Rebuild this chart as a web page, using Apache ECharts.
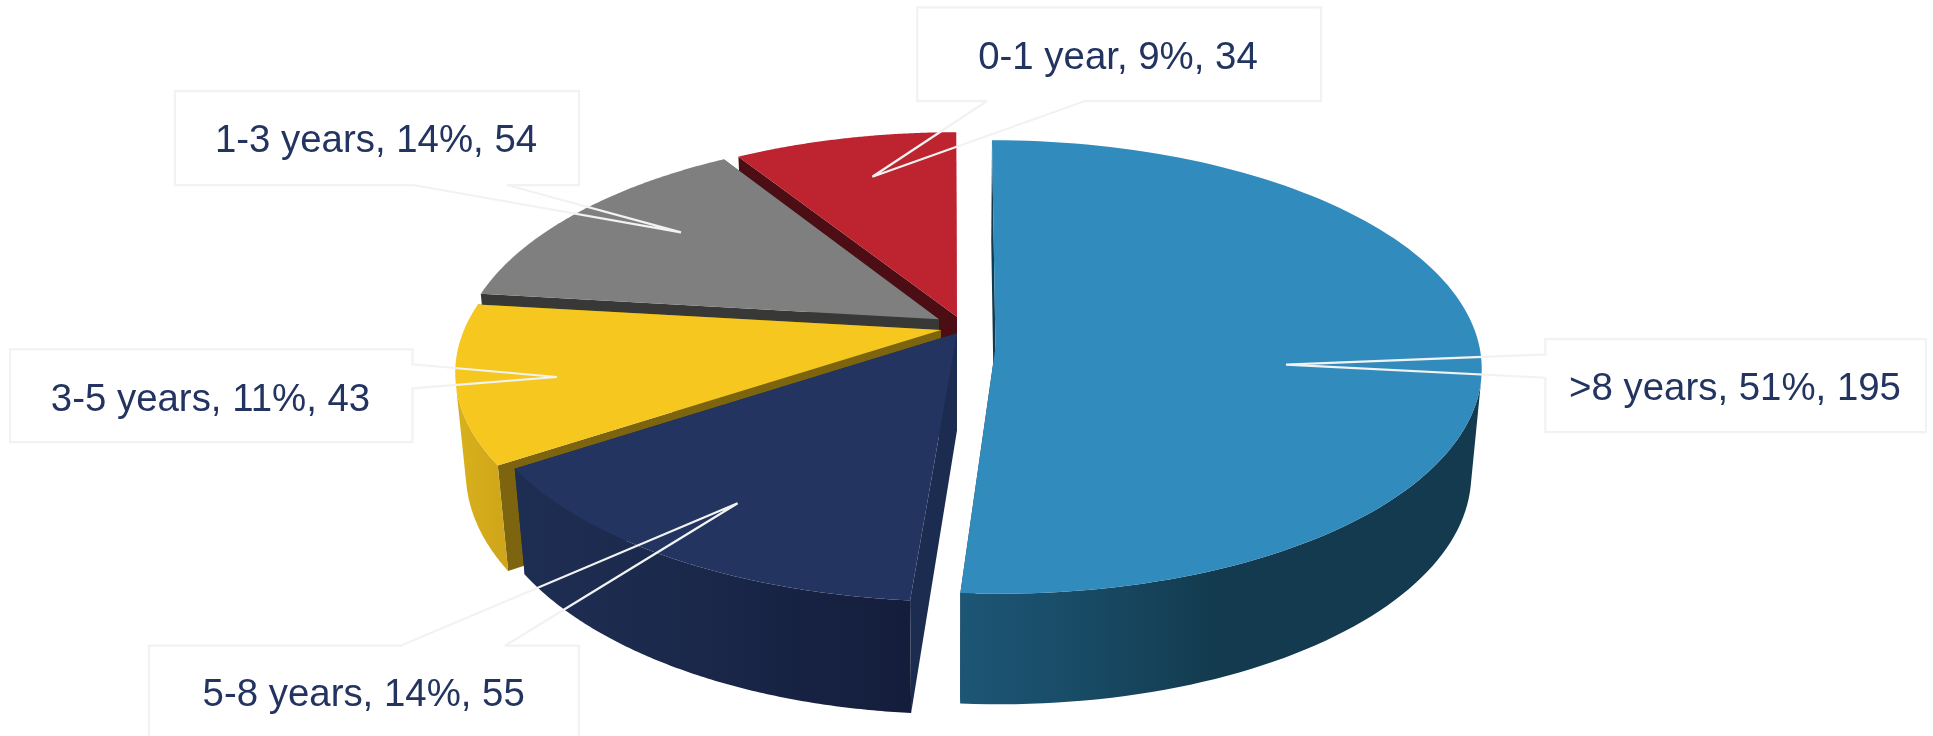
<!DOCTYPE html>
<html>
<head>
<meta charset="utf-8">
<style>html,body{margin:0;padding:0;background:#fff}#chart{width:1933px;height:736px}</style>
<script src="https://cdn.jsdelivr.net/npm/echarts@6/dist/echarts.min.js"></script>
</head>
<body>
<div id="chart"></div>
<script>
// ---- data ----
const categories = ['0-1 year', '1-3 years', '3-5 years', '5-8 years', '>8 years'];
const shares = [9, 14, 11, 14, 51];
const counts = [34, 54, 43, 55, 195];

// ---- styles ----
const TOP = ['#bd2430', '#7f7f7f', '#f5c71f', '#22345f', '#318bbd'];
const START_FACE = ['#4d0d14', '#383836', '#7d650f', '#1c2c50', '#123a4e'];
const WALL = [
  [[0, '#8a1a23'], [1, '#8a1a23']],
  [[0, '#5c5c5c'], [1, '#5c5c5c']],
  [[0, '#d9b01c'], [1, '#cfa51a']],
  [[0, '#1e2e53'], [0.5, '#1a2749'], [1, '#141d3b']],
  [[0, '#1d5675'], [0.25, '#184a64'], [0.5, '#133a4e'], [1, '#133a4e']]
];
const TEXT_COLOR = '#22345f';
const CALLOUT_STROKE = '#f2f2f2';

// ---- perspective layout of each slice ----
const VANISH_X = 952;
const REST = { ry: 218.6, k: 0.185, m: 0.0209, h: 99.8 };
const LAYOUT = [
  Object.assign({ ax: 957, ay: 316.7, rx: 474, startShift: 0 }, REST),
  Object.assign({ ax: 939, ay: 319.3, rx: 472, startShift: 0 }, REST),
  Object.assign({ ax: 941, ay: 330, rx: 477, startShift: 0 }, REST),
  Object.assign({ ax: 957, ay: 333.3, rx: 478, startShift: 0.45 }, REST),
  { ax: 995.5, ay: 347, rx: 484, ry: 225, k: 0.088, m: 0.02, h: 108, startShift: 0 }
];

// ---- callout boxes ----
const CALLOUTS = [
  { box: [917.3, 7.3, 1321, 101], side: 'bottom', a: [987, 101], tip: [872.4, 176.7], b: [1085, 101], text: [1118, 58] },
  { box: [175, 91, 579, 185], side: 'bottom', a: [413, 185], tip: [681, 232.3], b: [507, 185], text: [376, 141.5] },
  { box: [10, 349.3, 412.5, 442], side: 'right', a: [412.5, 364.3], tip: [556.8, 377], b: [412.5, 388.3], text: [210.5, 400] },
  { box: [149, 645.7, 578.8, 739], side: 'top', a: [400.7, 645.7], tip: [737.6, 503.3], b: [505, 645.7], text: [363.7, 695.5] },
  { box: [1545.3, 339, 1926, 432], side: 'left', a: [1545.3, 354.3], tip: [1286, 364.7], b: [1545.3, 377.7], text: [1735, 389] }
];

// slices run clockwise from 12 o'clock with >8 years first, so 0-1 year ends at 360 degrees
const total = counts.reduce((s, v) => s + v, 0);
const ranges = [];
let cursor = 360;
counts.forEach((v) => {
  const sweep = v / total * 360;
  ranges.push([cursor - sweep, cursor]);
  cursor -= sweep;
});

function project(L, x, y, depth) {
  const w = 1 - L.k * y + L.m * depth;
  return [
    VANISH_X + (L.ax - VANISH_X + L.rx * x) / w,
    L.ay + (L.ry * y + L.h * depth) / w
  ];
}
function rim(L, deg, depth) {
  const a = deg * Math.PI / 180;
  return project(L, Math.sin(a), -Math.cos(a), depth);
}
function poly(points, fill) {
  return { type: 'polygon', shape: { points: points }, style: { fill: fill, stroke: null } };
}
function renderSlice(params, api) {
  const i = params.dataIndex;
  const L = LAYOUT[i];
  const from = ranges[i][0] + L.startShift, to = ranges[i][1];
  const steps = 120;
  const top = [], low = [];
  for (let s = 0; s <= steps; s++) {
    const d = from + (to - from) * s / steps;
    top.push(rim(L, d, 0));
    low.push(rim(L, d, 1));
  }
  const apex = project(L, 0, 0, 0), apexLow = project(L, 0, 0, 1);
  const children = [];
  // far radial face, then near radial face
  children.push(poly([apex, top[steps], low[steps], apexLow], i === 0 ? '#c9434e' : START_FACE[i]));
  children.push(poly([apex, top[0], low[0], apexLow], START_FACE[i]));
  // outer wall: only the part that faces the viewer
  const frontTop = [], frontLow = [];
  for (let s = 0; s < steps; s++) {
    const q = [top[s], top[s + 1], low[s + 1], low[s]];
    let area = 0;
    for (let n = 0; n < 4; n++) {
      const p = q[n], r = q[(n + 1) % 4];
      area += p[0] * r[1] - r[0] * p[1];
    }
    if (area < 0) {
      if (!frontTop.length) { frontTop.push(top[s]); frontLow.push(low[s]); }
      frontTop.push(top[s + 1]);
      frontLow.push(low[s + 1]);
    }
  }
  if (frontTop.length) {
    const pts = frontTop.concat(frontLow.slice().reverse());
    const xs = pts.map((p) => p[0]);
    const minX = Math.min.apply(null, xs), maxX = Math.max.apply(null, xs);
    children.push(poly(pts, {
      type: 'linear', global: true, x: minX, y: 0, x2: maxX, y2: 0,
      colorStops: WALL[i].map((c) => ({ offset: c[0], color: c[1] }))
    }));
  }
  // top surface
  children.push(poly([apex].concat(top), TOP[i]));
  return { type: 'group', children: children };
}
function renderCallout(params, api) {
  const i = params.dataIndex;
  const c = CALLOUTS[i];
  const [x0, y0, x1, y1] = c.box;
  let outline;
  if (c.side === 'bottom') outline = [[x0, y0], [x1, y0], [x1, y1], c.b, c.tip, c.a, [x0, y1]];
  else if (c.side === 'top') outline = [[x0, y0], c.a, c.tip, c.b, [x1, y0], [x1, y1], [x0, y1]];
  else if (c.side === 'right') outline = [[x0, y0], [x1, y0], c.a, c.tip, c.b, [x1, y1], [x0, y1]];
  else outline = [[x0, y0], [x1, y0], [x1, y1], [x0, y1], c.b, c.tip, c.a];
  return {
    type: 'group',
    children: [
      { type: 'polygon', shape: { points: outline }, style: { fill: null, stroke: CALLOUT_STROKE, lineWidth: 2.25, lineJoin: 'miter', miterLimit: 2 } },
      {
        type: 'text',
        style: {
          x: c.text[0], y: c.text[1],
          text: categories[i] + ', ' + shares[i] + '%, ' + counts[i],
          fill: TEXT_COLOR,
          font: '38.4px "Liberation Sans", Arial, sans-serif',
          align: 'center', verticalAlign: 'middle'
        }
      }
    ]
  };
}

const chart = echarts.init(document.getElementById('chart'), null, { renderer: 'canvas' });
chart.setOption({
  animation: false,
  backgroundColor: '#ffffff',
  series: [
    {
      type: 'custom', coordinateSystem: 'none', silent: true, z: 2,
      data: counts.map((v, i) => ({ name: categories[i], value: [v, shares[i]] })),
      renderItem: renderSlice
    },
    {
      type: 'custom', coordinateSystem: 'none', silent: true, z: 3,
      data: counts.map((v, i) => ({ name: categories[i], value: [v, shares[i]] })),
      renderItem: renderCallout
    }
  ]
});
</script>
</body>
</html>
